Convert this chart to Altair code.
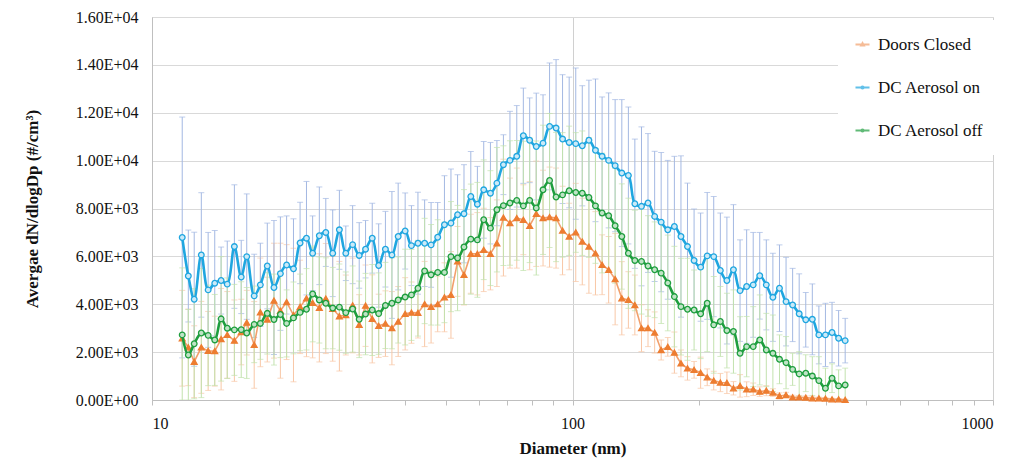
import altair as alt
import pandas as pd

diameters = [
    11.8, 12.2, 12.6, 13.1, 13.6, 14.1, 14.6, 15.1, 15.7, 16.3,
    16.8, 17.5, 18.1, 18.8, 19.5, 20.2, 20.9, 21.7, 22.5, 23.3,
    24.1, 25.0, 25.9, 26.9, 27.9, 28.9, 30.0, 31.1, 32.2, 33.4,
    34.6, 35.9, 37.2, 38.5, 40.0, 41.4, 42.9, 44.5, 46.1, 47.8,
    49.6, 51.4, 53.3, 55.2, 57.3, 59.4, 61.5, 63.8, 66.1, 68.5,
    71.0, 73.7, 76.4, 79.1, 82.0, 85.1, 88.2, 91.4, 94.7, 98.2,
    101.8, 105.5, 109.4, 113.4, 117.6, 121.9, 126.3, 131.0, 135.8, 140.7,
    145.9, 151.2, 156.8, 162.5, 168.5, 174.7, 181.1, 187.7, 194.6, 201.7,
    209.1, 216.7, 224.7, 232.9, 241.4, 250.3, 259.5, 269.0, 278.8, 289.0,
    299.6, 310.6, 322.0, 333.8, 346.0, 358.7, 371.8, 385.4, 399.5, 414.2,
    429.4, 445.1,
]

doors_closed = [
    2580, 2200, 1600, 2200, 2050, 2040, 2540, 2720, 2480, 2840,
    3230, 2300, 3660, 3360, 4150, 3730, 4090, 3550, 3890, 4250,
    4060, 3850, 4240, 3810, 3500, 3550, 3950, 3140, 3940, 3390,
    3100, 3190, 3000, 3280, 3600, 3650, 3640, 4010, 3890, 4010,
    4290, 4390, 5790, 5230, 6110, 6110, 6270, 6110, 6550, 7620,
    7390, 7600, 7530, 7280, 7780, 7600, 7640, 7600, 7080, 6830,
    7000, 6620, 6410, 6130, 5650, 5440, 5050, 4250, 4180, 3970,
    3000, 3000, 2820, 2090, 2220, 1980, 1530, 1320, 1260, 1140,
    950, 810, 730, 720, 490, 590, 450, 450, 350, 390,
    310, 170, 210, 110, 110, 100, 70, 70, 60, 30,
    30, 10,
]
doors_closed_sd = [
    2000, 1600, 1500, 1920, 1650, 1460, 2120, 1810, 1700, 1370,
    1350, 1810, 2270, 1770, 2400, 2820, 2400, 2790, 1950, 2440,
    2300, 2260, 2300, 2190, 2290, 1670, 1980, 1260, 1700, 1840,
    1320, 1370, 1530, 1460, 1510, 1280, 1050, 1780, 1510, 1160,
    1440, 1810, 1460, 1260, 1650, 1720, 1740, 1510, 1810, 2440,
    1880, 2090, 1460, 1840, 2200, 2000, 2090, 2090, 1850, 1390,
    2050, 1810, 1950, 1740, 1250, 1390, 1910, 1530, 1180, 1250,
    980, 770, 860, 420, 390, 860, 560, 490, 350, 650,
    350, 390, 380, 450, 280, 470, 310, 260, 200, 210,
    160, 130, 110, 90, 80, 70, 60, 50, 40, 40,
    30, 20,
]

aerosol_on = [
    6790, 5180, 4210, 6060, 4600, 4880, 4990, 4840, 6410, 5140,
    5990, 4350, 4810, 5600, 4700, 5280, 5640, 5480, 6560, 6760,
    6130, 6860, 7000, 6130, 7110, 6130, 6490, 6040, 6300, 6760,
    5620, 6300, 6060, 6830, 7060, 6450, 6550, 6550, 6480, 6800,
    7320, 7390, 7740, 7780, 8500, 8180, 8780, 8640, 9060, 9830,
    10010, 10180, 11040, 10850, 10590, 10730, 11430, 11360, 10900, 10760,
    10710, 10620, 10850, 10430, 10180, 10010, 9790, 9480, 9380, 8200,
    8090, 8230, 7670, 7430, 7110, 7250, 6830, 6410, 5830, 5550,
    6020, 5990, 5410, 4990, 5440, 4570, 4740, 4810, 5190, 4810,
    4290, 4670, 4110, 3970, 3600, 3350, 3370, 2720, 2720, 2820,
    2580, 2480,
]
aerosol_on_sd = [
    5030, 1920, 2800, 2600, 2400, 2200, 1400, 1800, 2580, 1530,
    2620, 1740, 1740, 1790, 2800, 2370, 2050, 2090, 1700, 2370,
    1560, 2040, 1420, 1810, 1650, 1140, 1630, 1370, 1200, 1460,
    1740, 1580, 2650, 2230, 1590, 1670, 2130, 1810, 1770, 1450,
    2050, 2260, 1670, 2050, 1880, 1580, 2020, 2120, 1780, 1250,
    2050, 2120, 1990, 1770, 2230, 2020, 2650, 2860, 2690, 2730,
    3160, 2510, 2510, 2980, 2480, 2820, 2760, 3070, 2860, 2700,
    3320, 2900, 2720, 2910, 2900, 2930, 3370, 2650, 2150, 2260,
    2650, 2510, 2400, 2650, 2720, 2120, 2370, 2190, 1810, 1880,
    1840, 1810, 1850, 1530, 1670, 1140, 1480, 1210, 1320, 1260,
    1160, 930,
]

aerosol_off = [
    2720, 1880, 2350, 2800, 2700, 2510, 3390, 3000, 2930, 2940,
    2800, 3160, 3200, 3620, 3360, 3570, 3200, 3430, 3660, 3790,
    4430, 4180, 4040, 3840, 3880, 3650, 3800, 3370, 3590, 3760,
    3610, 3950, 4040, 4180, 4300, 4390, 4670, 5390, 5230, 5330,
    5330, 5990, 5930, 6390, 6720, 6690, 7530, 7180, 7950, 8120,
    8230, 8340, 8110, 8340, 8020, 8780, 9170, 8480, 8570, 8740,
    8670, 8640, 8460, 8110, 7810, 7700, 7280, 6830, 6130, 5830,
    5790, 5600, 5440, 5300, 4890, 4320, 3900, 3790, 3760, 3600,
    4040, 3140, 3280, 2900, 2860, 1950, 2230, 2230, 2510, 2090,
    1950, 1700, 1560, 1280, 1090, 1120, 1000, 810, 490, 910,
    590, 630,
]
aerosol_off_sd = [
    2800, 1900, 2300, 2700, 2100, 1900, 2600, 2100, 1900, 2000,
    1900, 1600, 1500, 1700, 1900, 1800, 1400, 1500, 1600, 1700,
    2000, 1800, 1900, 1700, 1800, 1700, 1800, 1600, 1700, 1900,
    1700, 1800, 1900, 1800, 2000, 1900, 2000, 2200, 2100, 2200,
    2100, 2300, 2200, 2400, 2300, 2400, 2500, 2400, 2600, 2500,
    2600, 2500, 2700, 2600, 2800, 2700, 2800, 2700, 2600, 2700,
    2500, 2600, 2500, 2400, 2500, 2300, 2400, 2200, 2300, 2100,
    2200, 2100, 2000, 2100, 2000, 2100, 2020, 2130, 1670, 1870,
    2020, 2020, 1460, 1560, 1740, 1530, 1260, 1670, 1880, 1530,
    1600, 1020, 1090, 670, 930, 770, 810, 1000, 840, 600,
    670, 700,
]

series_names = ["Doors Closed", "DC Aerosol on", "DC Aerosol off"]
series_values = [doors_closed, aerosol_on, aerosol_off]
series_sd = [doors_closed_sd, aerosol_on_sd, aerosol_off_sd]

line_colors = ["#F2A06C", "#1FA6E0", "#1E9E3E"]
marker_colors = ["#ED7D31", "#1FA6E0", "#1E9E3E"]
marker_fills = ["#ED7D31", "#CBEAF8", "#BFE4C6"]
err_colors = ["#F8C7A6", "#A3B8E2", "#C2E2AE"]
interps = ["linear", "catmull-rom", "catmull-rom"]
shapes = ["triangle-up", "circle", "circle"]

rows = []
for name, vals, sds in zip(series_names, series_values, series_sd):
    for d, v, s in zip(diameters, vals, sds):
        rows.append({"series": name, "d": d, "value": v,
                     "lo": max(0, v - s), "hi": v + s})
df = pd.DataFrame(rows)

FONT = "Liberation Serif, Times New Roman, serif"

x_ticks = [10, 20, 30, 40, 50, 60, 70, 80, 90, 100, 200, 300, 400, 500,
           600, 700, 800, 900, 1000]
x_scale = alt.Scale(type="log", domain=[10, 1000], nice=False)
x_axis = alt.Axis(
    values=x_ticks,
    labelExpr="indexof([10, 100, 1000], datum.value) >= 0 ? '' + datum.value : ''",
    title="Diameter (nm)",
    grid=True,
    gridColor="#D0D0D0",
    gridOpacity={"condition": {"test": "indexof([10, 100, 1000], datum.value) >= 0",
                               "value": 1}, "value": 0},
    domainColor="#BFBFBF",
    tickColor="#BFBFBF",
    tickSize=5,
    labelPadding=10,
    labelFont=FONT, labelFontSize=16, labelColor="#111111",
    titleFont=FONT, titleFontSize=17, titleFontWeight="bold", titleColor="#111111",
    titlePadding=9,
)

y_ticks = list(range(0, 16001, 2000))
y_scale = alt.Scale(domain=[0, 16000], nice=False)
y_axis = alt.Axis(
    values=y_ticks,
    labelExpr="datum.value == 0 ? '0.00E+00' : (datum.value >= 10000 ? format(datum.value / 10000, '.2f') + 'E+04' : format(datum.value / 1000, '.2f') + 'E+03')",
    title="Avergae dN/dlogDp  (#/cm³)",
    grid=True,
    gridColor="#D9D9D9",
    domainColor="#BFBFBF",
    ticks=False,
    labelPadding=14,
    labelFont=FONT, labelFontSize=16, labelColor="#111111",
    titleFont=FONT, titleFontSize=17, titleFontWeight="bold", titleColor="#111111",
    titlePadding=34,
)

X = alt.X("d:Q", scale=x_scale, axis=x_axis)

def Yf(field):
    return alt.Y(f"{field}:Q", scale=y_scale, axis=y_axis)

err_layers = []
line_layers = []
for i, name in enumerate(series_names):
    base = alt.Chart(df).transform_filter(alt.datum.series == name)
    err_layers.append(
        base.mark_rule(color=err_colors[i], strokeWidth=1, clip=True).encode(
            x=X, y=Yf("lo"), y2="hi:Q")
    )
    err_layers.append(
        base.mark_tick(color=err_colors[i], orient="horizontal", size=6,
                       thickness=1, clip=True).encode(x=X, y=Yf("hi"))
    )
    err_layers.append(
        base.mark_tick(color=err_colors[i], orient="horizontal", size=6,
                       thickness=1, clip=True).encode(x=X, y=Yf("lo"))
    )
    line_layers.append(
        base.mark_line(color=line_colors[i],
                       strokeWidth=1.6 if i == 0 else 2.6,
                       interpolate=interps[i]).encode(x=X, y=Yf("value"))
    )
    line_layers.append(
        base.mark_point(shape=shapes[i], filled=True, fill=marker_fills[i],
                        stroke=marker_colors[i], strokeWidth=1.3,
                        size=34 if i == 0 else 32, opacity=1).encode(
            x=X, y=Yf("value"))
    )

legend_paths = [
    "M-1.4,0H1.4M-0.28,0.22L0,-0.3L0.28,0.22Z",
    "M-1.4,0H-0.22M0.22,0H1.4M-0.22,0A0.22,0.22,0,1,0,0.22,0A0.22,0.22,0,1,0,-0.22,0",
    "M-1.4,0H-0.22M0.22,0H1.4M-0.22,0A0.22,0.22,0,1,0,0.22,0A0.22,0.22,0,1,0,-0.22,0",
]
leg = dict(
    title=None, orient="none", legendX=686, legendY=3, padding=16,
    fillColor="white", labelFont=FONT, labelFontSize=17, labelColor="#111111",
    symbolSize=100, symbolStrokeWidth=2, labelOffset=7, rowPadding=25,
    labelLimit=300,
)
legend_layer = alt.Chart(df).transform_filter("false").mark_point(
    filled=False, strokeWidth=2).encode(
    x=X, y=Yf("value"),
    color=alt.Color("series:N",
                    scale=alt.Scale(domain=series_names, range=line_colors),
                    legend=alt.Legend(**leg)),
    shape=alt.Shape("series:N",
                    scale=alt.Scale(domain=series_names, range=legend_paths),
                    legend=alt.Legend(**leg)),
)

chart = alt.layer(*err_layers, *line_layers, legend_layer).properties(
    width=841, height=383,
    autosize=alt.AutoSizeParams(type="none"),
    padding={"left": 144, "top": 9, "right": 20, "bottom": 61},
).configure_view(stroke=None).configure(background="white")

chart.save("out.html", embed_options={"renderer": "svg", "actions": False})
